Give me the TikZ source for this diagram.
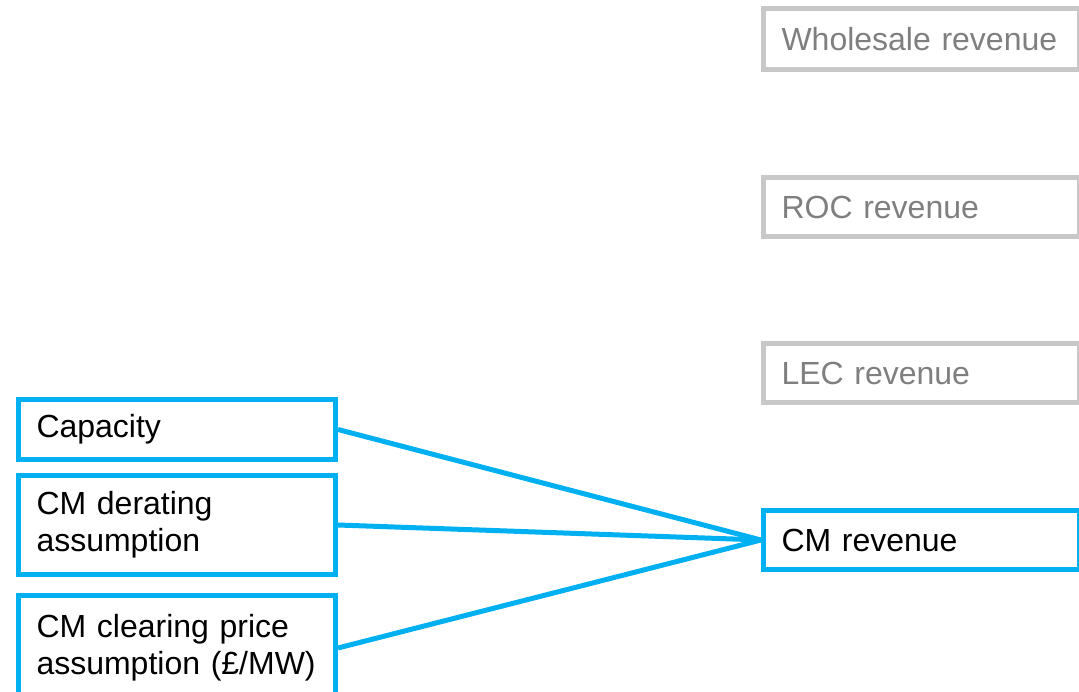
\documentclass[tikz,border=0pt]{standalone}
\usepackage{fontspec}
\setmainfont{Liberation Sans}
\definecolor{cmblue}{HTML}{00B0F0}
\definecolor{boxgray}{HTML}{C8C8C8}
\definecolor{txtgray}{HTML}{7F7F7F}
\begin{document}
\begin{tikzpicture}[x=1pt,y=-1pt,
  box/.style={rectangle, draw, line width=5pt, anchor=north west,
    inner xsep=18pt, inner ysep=0pt, align=left,
    font=\fontsize{32}{37}\selectfont},
  inbox/.style={box, draw=cmblue, text=black, text width=281pt},
  outbox/.style={box, draw=cmblue, text=black, text width=280pt},
  greybox/.style={box, draw=boxgray, text=txtgray, text width=280pt},
  conn/.style={draw=cmblue, line width=5pt}]
\useasboundingbox (0,0) rectangle (1079,692);
\clip (0,0) rectangle (1079,692);

% revenue streams on the right
\node[greybox, minimum height=61pt] (whole) at (761,6) {Wholesale revenue};
\node[greybox, minimum height=59pt] (roc) at (761,175) {ROC revenue};
\node[greybox, minimum height=59pt] (lec) at (761,341) {LEC revenue};
\node[outbox, minimum height=59pt] (cm) at (761,508) {CM revenue};

% inputs on the left
\node[inbox, minimum height=60pt] (cap) at (16,397) {Capacity};
\node[inbox, minimum height=99pt] (derate) at (16,473) {CM derating\\assumption};
\node[inbox, minimum height=105pt] (price) at (16,593) {CM clearing price\\assumption (£/MW)};

% connectors into CM revenue
\draw[conn] (cap.east) -- (cm.west);
\draw[conn] (derate.east) -- (cm.west);
\draw[conn] (price.east) -- (cm.west);
\end{tikzpicture}
\end{document}
